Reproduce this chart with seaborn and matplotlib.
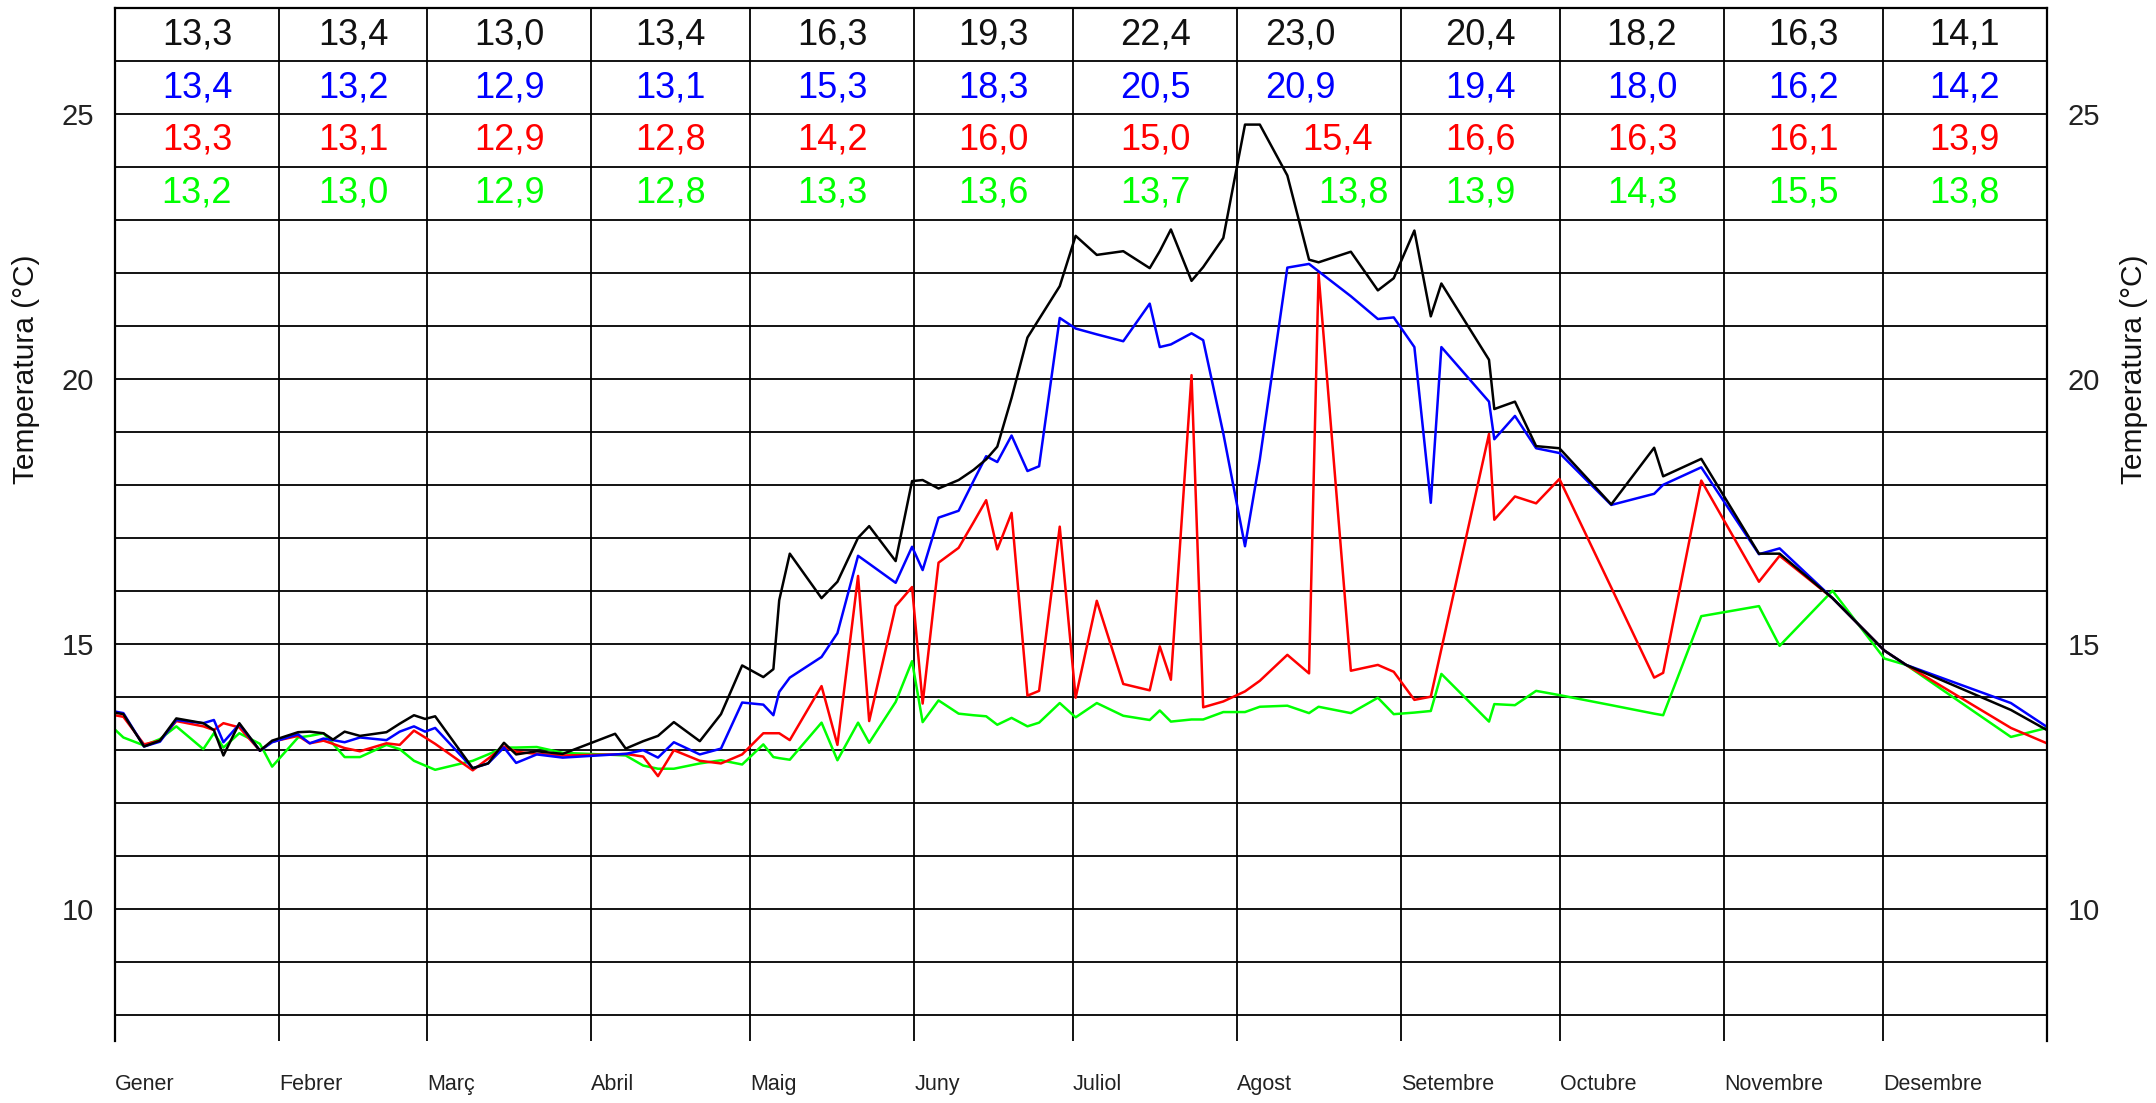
import numpy as np
import pandas as pd
import matplotlib
matplotlib.use("Agg")
import matplotlib.pyplot as plt
import seaborn as sns

sns.set_style("white")
plt.rcParams['font.family'] = ['Liberation Sans', 'DejaVu Sans']


# Sampling days (day of year, 0 = 1 January)
days = [0, 1.6, 5.5, 8.5, 11.6, 16.7, 18.7, 20.5, 23.5, 27.4,
        29.7, 34.6, 36.8, 39.4, 41.2, 43.4, 46.3, 51.3, 53.8, 56.5,
        58.6, 60.5, 67.6, 70.5, 73.5, 75.8, 79.7, 84.6, 94.5, 96.5,
        99.8, 102.6, 105.6, 110.5, 114.5, 118.5, 122.5, 124.4, 125.5, 127.5,
        133.5, 136.5, 140.4, 142.5, 147.5, 150.6, 152.6, 155.6, 159.4, 162.2,
        164.6, 166.7, 169.4, 172.4, 174.6, 178.5, 181.5, 185.5, 190.5, 195.5,
        197.4, 199.5, 203.4, 205.6, 209.4, 213.5, 216.3, 221.5, 225.6, 227.4,
        233.5, 238.6, 241.6, 245.5, 248.6, 250.6, 259.6, 260.6, 264.5, 268.5,
        272.9, 282.7, 290.8, 292.5, 299.7, 310.6, 314.5, 324.5, 334.3, 338.4,
        358.2, 365]

black = [13.70, 13.67, 13.06, 13.17, 13.59, 13.50, 13.37, 12.89, 13.50, 12.98,
         13.17, 13.33, 13.34, 13.31, 13.19, 13.34, 13.26, 13.33, 13.49, 13.65,
         13.58, 13.63, 12.65, 12.74, 13.13, 12.91, 12.97, 12.92, 13.30, 13.02,
         13.16, 13.26, 13.52, 13.16, 13.67, 14.59, 14.37, 14.52, 15.82, 16.70,
         15.86, 16.17, 17.00, 17.22, 16.56, 18.07, 18.09, 17.93, 18.09, 18.28,
         18.48, 18.72, 19.64, 20.78, 21.13, 21.75, 22.70, 22.34, 22.41, 22.09,
         22.41, 22.82, 21.85, 22.11, 22.66, 24.80, 24.80, 23.84, 22.25, 22.20,
         22.40, 21.67, 21.90, 22.80, 21.18, 21.80, 20.36, 19.43, 19.57, 18.73,
         18.69, 17.63, 18.70, 18.16, 18.49, 16.70, 16.70, 15.86, 14.87, 14.60,
         13.75, 13.37]

blue = [13.72, 13.69, 13.06, 13.15, 13.56, 13.50, 13.56, 13.14, 13.48, 12.98,
        13.14, 13.29, 13.12, 13.21, 13.18, 13.14, 13.23, 13.18, 13.34, 13.44,
        13.34, 13.41, 12.65, 12.74, 13.04, 12.75, 12.91, 12.85, 12.91, 12.92,
        12.99, 12.85, 13.14, 12.91, 13.02, 13.89, 13.85, 13.65, 14.09, 14.36,
        14.75, 15.20, 16.66, 16.51, 16.15, 16.83, 16.39, 17.38, 17.51, 18.07,
        18.54, 18.43, 18.93, 18.26, 18.35, 21.15, 20.95, 20.84, 20.71, 21.42,
        20.60, 20.65, 20.86, 20.73, 18.97, 16.84, 18.48, 22.10, 22.17, 22.03,
        21.56, 21.13, 21.16, 20.60, 17.66, 20.60, 19.57, 18.86, 19.30, 18.69,
        18.60, 17.62, 17.83, 18.00, 18.33, 16.69, 16.80, 15.86, 14.87, 14.60,
        13.88, 13.43]

red = [13.65, 13.62, 13.10, 13.17, 13.54, 13.44, 13.37, 13.50, 13.42, 12.98,
       13.15, 13.26, 13.12, 13.17, 13.11, 13.03, 12.97, 13.12, 13.09, 13.36,
       13.23, 13.11, 12.61, 12.83, 13.06, 12.96, 12.92, 12.89, 12.91, 12.92,
       12.87, 12.50, 12.99, 12.79, 12.74, 12.91, 13.31, 13.31, 13.31, 13.18,
       14.20, 13.09, 16.28, 13.54, 15.71, 16.07, 13.87, 16.53, 16.81, 17.29,
       17.71, 16.78, 17.47, 14.02, 14.11, 17.21, 13.98, 15.81, 14.24, 14.12,
       14.95, 14.32, 20.07, 13.80, 13.91, 14.10, 14.30, 14.79, 14.44, 21.98,
       14.49, 14.60, 14.47, 13.94, 14.00, 14.90, 18.96, 17.34, 17.78, 17.65,
       18.11, 16.06, 14.36, 14.45, 18.08, 16.17, 16.66, 15.86, 14.87, 14.60,
       13.41, 13.12]

green = [13.38, 13.23, 13.08, 13.20, 13.44, 13.01, 13.31, 13.04, 13.31, 13.11,
         12.68, 13.23, 13.26, 13.31, 13.11, 12.86, 12.86, 13.09, 13.01, 12.79,
         12.70, 12.62, 12.79, 12.91, 13.04, 13.04, 13.05, 12.94, 12.90, 12.89,
         12.70, 12.64, 12.64, 12.74, 12.80, 12.72, 13.10, 12.86, 12.84, 12.81,
         13.51, 12.80, 13.51, 13.13, 13.90, 14.67, 13.52, 13.93, 13.68, 13.65,
         13.63, 13.47, 13.60, 13.44, 13.51, 13.88, 13.61, 13.88, 13.64, 13.56,
         13.74, 13.53, 13.57, 13.57, 13.71, 13.71, 13.81, 13.83, 13.69, 13.81,
         13.69, 13.98, 13.67, 13.70, 13.73, 14.43, 13.53, 13.86, 13.84, 14.11,
         14.03, 13.84, 13.68, 13.65, 15.52, 15.71, 14.96, 16.00, 14.72, 14.60,
         13.24, 13.41]

# Monthly means shown in the table at the top
mean_black = [13.3, 13.4, 13.0, 13.4, 16.3, 19.3, 22.4, 23.0, 20.4, 18.2, 16.3, 14.1]
mean_blue = [13.4, 13.2, 12.9, 13.1, 15.3, 18.3, 20.5, 20.9, 19.4, 18.0, 16.2, 14.2]
mean_red = [13.3, 13.1, 12.9, 12.8, 14.2, 16.0, 15.0, 15.4, 16.6, 16.3, 16.1, 13.9]
mean_green = [13.2, 13.0, 12.9, 12.8, 13.3, 13.6, 13.7, 13.8, 13.9, 14.3, 15.5, 13.8]

months = ["Gener", "Febrer", "Març", "Abril", "Maig", "Juny",
          "Juliol", "Agost", "Setembre", "Octubre", "Novembre", "Desembre"]
month_starts = [0, 31, 59, 90, 120, 151, 181, 212, 243, 273, 304, 334]
year_end = 365


series_names = ["verd", "vermell", "blau", "negre"]
colors = {"negre": "black", "blau": "#0000ff", "vermell": "#ff0000", "verd": "#00ff00"}

df = pd.DataFrame({
    "Dia": days * 4,
    "Temperatura": green + red + blue + black,
    "Serie": [s for s in series_names for _ in days],
})


fig = plt.figure(figsize=(21.56, 11.03), dpi=100)
ax = fig.add_axes([0.0533, 0.0562, 0.8961, 0.9365])

sns.lineplot(data=df, x="Dia", y="Temperatura", hue="Serie", hue_order=series_names,
             palette=colors, estimator=None, linewidth=1.8, legend=False, ax=ax)

ax.set_xlim(0, year_end)
ax.set_ylim(7.5, 27)

# grid: one line per degree, one per month
ax.set_yticks([10, 15, 20, 25])
ax.set_yticks(np.arange(8, 27), minor=True)
ax.set_xticks(month_starts)
ax.set_xticklabels(months, ha="left", fontsize=15.5, color="#222222")
ax.grid(True, which="both", axis="y", color="black", linewidth=1.3)
ax.grid(True, which="major", axis="x", color="black", linewidth=1.3)
ax.set_axisbelow(True)

ax.tick_params(axis="both", which="both", length=0)
ax.tick_params(axis="x", pad=24)
ax.tick_params(axis="y", labelsize=21, labelcolor="#222222", pad=15,
               labelleft=True, labelright=True)

for side in ["left", "right", "top"]:
    ax.spines[side].set_color("black")
    ax.spines[side].set_linewidth(1.6)
ax.spines["bottom"].set_visible(False)

ax.set_xlabel("")
ax.set_ylabel("Temperatura (°C)", fontsize=21.5, color="#111111")
ax.yaxis.set_label_coords(-0.039, 0.65)
ax.text(1.045, 0.65, "Temperatura (°C)", transform=ax.transAxes, rotation=90,
        ha="center", va="center", fontsize=21.5, color="#111111")

# table of monthly means
month_mids = [(a + b) / 2 for a, b in zip(month_starts, month_starts[1:] + [year_end])]
rows = [(mean_black, "negre", 26.5), (mean_blue, "blau", 25.5),
        (mean_red, "vermell", 24.5), (mean_green, "verd", 23.5)]
# August cells are not centred in the original
shift = {("negre", 7): -3.5, ("blau", 7): -3.5, ("vermell", 7): 3.5, ("verd", 7): 6.5}
for values, name, ypos in rows:
    for i, v in enumerate(values):
        x = month_mids[i] + shift.get((name, i), 0)
        txt = f"{v:.1f}".replace(".", ",")
        ax.text(x, ypos, txt, ha="center", va="center", fontsize=26,
                color="#111111" if name == "negre" else colors[name])

fig.savefig("out.png", dpi=100)
